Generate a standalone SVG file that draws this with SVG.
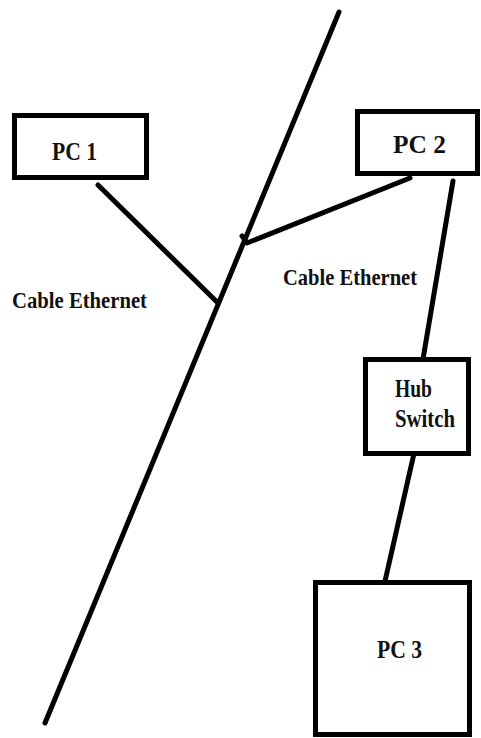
<svg xmlns="http://www.w3.org/2000/svg" width="481" height="738" viewBox="0 0 481 738">
<style>
.box{fill:#fff;stroke:#000;stroke-width:5}
.wire{fill:none;stroke:#000;stroke-width:5;stroke-linecap:round;stroke-linejoin:round}
.lbl{font-family:"Liberation Serif","Times New Roman",serif;font-weight:bold;fill:#111}
</style>
<rect width="481" height="738" fill="#fff"/>
<g id="connectors">
<line class="wire" x1="339" y1="12" x2="45" y2="723"/>
<line class="wire" x1="98" y1="185" x2="217" y2="302"/>
<polyline class="wire" points="410,178 247,243 242,236"/>
<line class="wire" x1="453" y1="181" x2="421" y2="371"/>
<line class="wire" x1="415" y1="449" x2="383" y2="590"/>
</g>
<g id="pc1">
<rect class="box" x="14.5" y="115.5" width="132" height="62"/>
<text class="lbl" x="52" y="160" font-size="26" textLength="45" lengthAdjust="spacingAndGlyphs">PC 1</text>
</g>
<g id="pc2">
<rect class="box" x="357.5" y="111.5" width="120" height="62"/>
<text class="lbl" x="393" y="153" font-size="26" textLength="53" lengthAdjust="spacingAndGlyphs">PC  2</text>
</g>
<g id="hub">
<rect class="box" x="365.5" y="359.5" width="103" height="94"/>
<text class="lbl" x="395" y="397" font-size="25" textLength="37" lengthAdjust="spacingAndGlyphs">Hub</text>
<text class="lbl" x="395" y="427" font-size="25" textLength="60" lengthAdjust="spacingAndGlyphs">Switch</text>
</g>
<g id="pc3">
<rect class="box" x="315.5" y="582.5" width="154" height="152"/>
<text class="lbl" x="377" y="658" font-size="25" textLength="45" lengthAdjust="spacingAndGlyphs">PC 3</text>
</g>
<g id="labels">
<text class="lbl" x="12" y="308" font-size="23" textLength="135" lengthAdjust="spacingAndGlyphs">Cable Ethernet</text>
<text class="lbl" x="283" y="285" font-size="23" textLength="134" lengthAdjust="spacingAndGlyphs">Cable Ethernet</text>
</g>
</svg>
